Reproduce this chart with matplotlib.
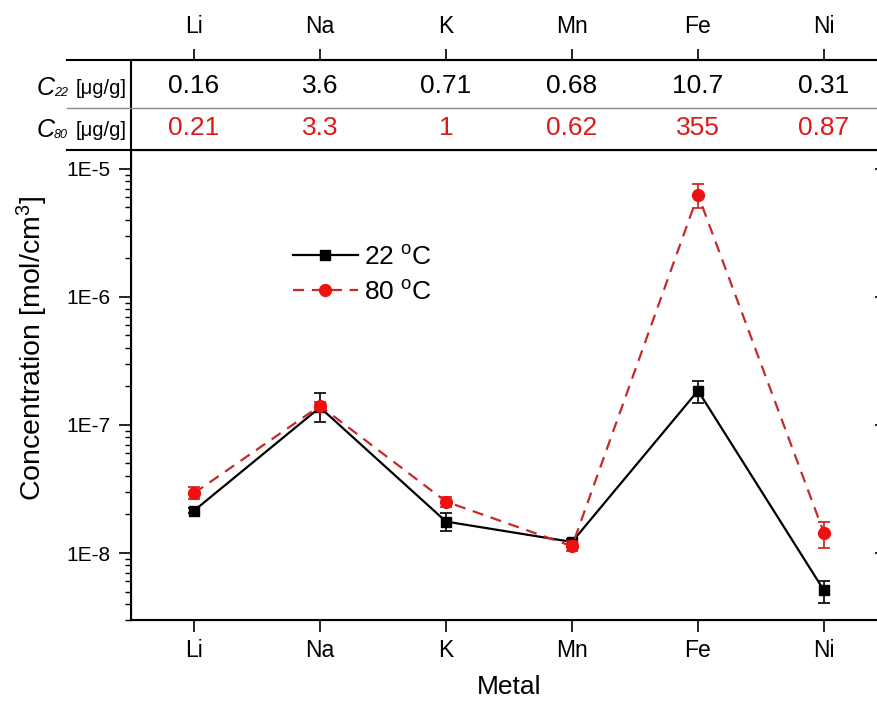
import matplotlib
matplotlib.use("Agg")
import matplotlib.pyplot as plt
from matplotlib.ticker import FixedLocator, FixedFormatter, LogLocator, NullFormatter
from matplotlib.lines import Line2D

plt.rcParams['font.family'] = ['Liberation Sans', 'DejaVu Sans']
plt.rcParams['mathtext.fontset'] = 'custom'
plt.rcParams['mathtext.rm'] = 'Liberation Sans'
plt.rcParams['mathtext.it'] = 'Liberation Sans:italic'

# dados
metais = ["Li", "Na", "K", "Mn", "Fe", "Ni"]

conc_22 = [2.14e-8, 1.37e-7, 1.76e-8, 1.22e-8, 1.85e-7, 5.1e-9]
baixo_22 = [2.04e-8, 1.06e-7, 1.49e-8, 1.15e-8, 1.49e-7, 4.1e-9]
alto_22 = [2.24e-8, 1.77e-7, 2.04e-8, 1.29e-8, 2.22e-7, 6.1e-9]

conc_80 = [2.93e-8, 1.41e-7, 2.52e-8, 1.13e-8, 6.27e-6, 1.43e-8]
baixo_80 = [2.65e-8, 1.30e-7, 2.30e-8, 1.03e-8, 4.9e-6, 1.10e-8]
alto_80 = [3.25e-8, 1.52e-7, 2.75e-8, 1.24e-8, 7.6e-6, 1.76e-8]

tab_22 = ["0.16", "3.6", "0.71", "0.68", "10.7", "0.31"]
tab_80 = ["0.21", "3.3", "1", "0.62", "355", "0.87"]

y_ticks = [1e-8, 1e-7, 1e-6, 1e-5]
y_labels = ["1E-8", "1E-7", "1E-6", "1E-5"]

W, H = 877, 702
fig = plt.figure(figsize=(W / 100, H / 100), dpi=100)

x = list(range(len(metais)))
ax = fig.add_axes([131 / W, 1 - 620 / H, 756 / W, 470 / H])
tab = fig.add_axes([131 / W, 1 - 150 / H, 756 / W, 90 / H])

vermelho = "#ee1111"
tracejado = "#c42a2a"

# barras de erro
err22 = [[c - b for c, b in zip(conc_22, baixo_22)], [a - c for c, a in zip(conc_22, alto_22)]]
err80 = [[c - b for c, b in zip(conc_80, baixo_80)], [a - c for c, a in zip(conc_80, alto_80)]]
ax.errorbar(x, conc_22, yerr=err22, fmt="none", ecolor="black", elinewidth=1.2, capsize=4.3, capthick=1.2)
ax.plot(x, conc_22, color="black", lw=1.6, marker="s", ms=7, mfc="black", mec="black", label=r"22 $^{\mathrm{o}}$C")
ax.errorbar(x, conc_80, yerr=err80, fmt="none", ecolor="#d01818", elinewidth=1.2, capsize=4.3, capthick=1.2)
ax.plot(x, conc_80, color=tracejado, lw=1.6, dashes=(5, 3.5), marker="o", ms=8.5,
        mfc=vermelho, mec=vermelho, label=r"80 $^{\mathrm{o}}$C")

ax.set_yscale("log")
ax.set_ylim(3e-9, 1.4e-5)
ax.set_xlim(-0.5, 5.5)
ax.yaxis.set_major_locator(FixedLocator(y_ticks))
ax.yaxis.set_major_formatter(FixedFormatter(y_labels))
ax.yaxis.set_minor_locator(LogLocator(base=10, subs=range(2, 10)))
ax.yaxis.set_minor_formatter(NullFormatter())
ax.set_xticks(x)
ax.set_xticklabels(metais)
ax.tick_params(axis="both", which="major", direction="out", length=8.5, width=1.2)
ax.tick_params(axis="y", which="minor", direction="out", length=4.5, width=1.0)
ax.tick_params(axis="x", pad=5, labelsize=16.5)
ax.tick_params(axis="y", pad=6, labelsize=15)
for s in ax.spines.values():
    s.set_linewidth(1.5)

# ticks do lado direito (para dentro)
ax_r = ax.twinx()
ax_r.set_yscale("log")
ax_r.set_ylim(ax.get_ylim())
ax_r.yaxis.set_major_locator(FixedLocator(y_ticks))
ax_r.yaxis.set_minor_locator(LogLocator(base=10, subs=range(2, 10)))
ax_r.tick_params(which="major", direction="in", length=8.5, width=1.2, labelright=False)
ax_r.tick_params(which="minor", direction="in", length=4.5, width=1.0, labelright=False)

ax.set_ylabel(r"Concentration [mol/cm$^3$]", fontsize=20.5)
ax.yaxis.set_label_coords(-0.107, 0.577)
ax.set_xlabel("Metal", fontsize=19)
ax.xaxis.set_label_coords(0.5, -0.117)

leg = ax.legend(loc="center left", bbox_to_anchor=(293 / W, 1 - 275 / H), bbox_transform=fig.transFigure,
                frameon=False, fontsize=19, handlelength=2.45, handletextpad=0.24, labelspacing=0.42,
                borderpad=0, borderaxespad=0)

# tabela no topo
tab.set_xlim(-0.5, 5.5)
tab.set_ylim(0, 90)
tab.spines["bottom"].set_visible(False)
tab.spines["right"].set_visible(False)
tab.spines["top"].set_linewidth(1.5)
tab.spines["left"].set_linewidth(1.5)
tab.xaxis.tick_top()
tab.set_xticks(x)
tab.set_xticklabels(metais)
tab.set_yticks([])
tab.tick_params(axis="x", direction="out", length=8, width=1.2, labelsize=16.5, pad=8)

for i, (a, b) in enumerate(zip(tab_22, tab_80)):
    tab.text(i, 64, a, ha="center", va="center", fontsize=19, color="black")
    tab.text(i, 22, b, ha="center", va="center", fontsize=19, color="#dd1a1a")

# linhas horizontais da tabela (estendem para a esquerda)
for py, cor, lw in [(60, "black", 1.5), (108, "#8a8a8a", 1.0), (150, "black", 1.5)]:
    fig.add_artist(Line2D([67 / W, 1], [1 - py / H, 1 - py / H], color=cor, lw=lw, transform=fig.transFigure))

# rotulos das linhas: C (italico) + indice pequeno + unidade
for base, sub in [(95, "22"), (137, "80")]:
    fig.text(37 / W, 1 - base / H, "C", ha="left", va="baseline", fontsize=18, style="italic")
    fig.text(54 / W, 1 - (base + 1) / H, sub, ha="left", va="baseline", fontsize=9, style="italic")
    fig.text(127 / W, 1 - (base - 1) / H, "[\u03bcg/g]", ha="right", va="baseline", fontsize=14.5)

fig.savefig("out.png", dpi=100)
